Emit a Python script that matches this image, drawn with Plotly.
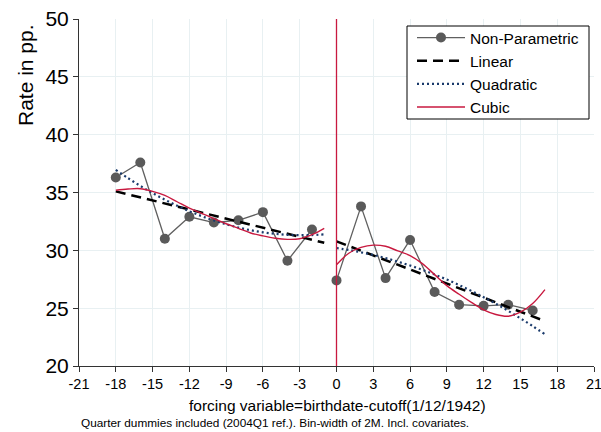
import plotly.graph_objects as go

# ---------------- data ----------------
X_LEFT = [-18, -16, -14, -12, -10, -8, -6, -4, -2]
NP_LEFT = [36.3, 37.6, 31.0, 32.9, 32.4, 32.6, 33.3, 29.1, 31.8]
X_RIGHT = [0, 2, 4, 6, 8, 10, 12, 14, 16]
NP_RIGHT = [27.4, 33.8, 27.6, 30.9, 26.4, 25.3, 25.2, 25.3, 24.8]

LIN_X_LEFT = [-18, -1]
LIN_LEFT = [35.1, 30.65]
LIN_X_RIGHT = [0, 17]
LIN_RIGHT = [30.78, 23.88]

FIT_X_LEFT = [-18, -17, -16, -15, -14, -13, -12, -11, -10, -9, -8, -7, -6, -5, -4, -3, -2, -1]
QUAD_LEFT = [36.95, 36.24, 35.57, 34.95, 34.38, 33.86, 33.38, 32.96, 32.58, 32.25,
             31.97, 31.74, 31.56, 31.43, 31.34, 31.31, 31.32, 31.38]
CUB_LEFT = [35.2, 35.3, 35.33, 35.1, 34.75, 34.2, 33.65, 33.2, 32.75, 32.3,
            31.9, 31.5, 31.25, 31.05, 30.95, 31.0, 31.35, 31.9]

FIT_X_RIGHT = [0, 1, 2, 3, 4, 5, 6, 7, 8, 9, 10, 11, 12, 13, 14, 15, 16, 17]
QUAD_RIGHT = [30.2, 30.03, 29.83, 29.6, 29.33, 29.02, 28.69, 28.32, 27.91, 27.47,
              27.0, 26.49, 25.95, 25.38, 24.77, 24.12, 23.45, 22.74]
CUB_RIGHT = [28.75, 29.75, 30.25, 30.45, 30.35, 29.95, 29.55, 28.85, 27.9, 26.95,
             26.2, 25.5, 24.85, 24.45, 24.3, 24.65, 25.4, 26.6]

CUTOFF = 0
X_TICKS = [-21, -18, -15, -12, -9, -6, -3, 0, 3, 6, 9, 12, 15, 18, 21]
Y_TICKS = [20, 25, 30, 35, 40, 45, 50]

# ---------------- styles ----------------
FONT = "Liberation Sans, Arial, sans-serif"
GRAY = "#606060"
CRIMSON = "#c8193f"
NAVY = "#1a3a6b"
GRID = "#e8f0f2"

fig = go.Figure()

# non-parametric
for i, (xs, ys) in enumerate([(X_LEFT, NP_LEFT), (X_RIGHT, NP_RIGHT)]):
    fig.add_trace(go.Scatter(
        x=xs, y=ys, mode="lines+markers", name="Non-Parametric",
        legendgroup="np", showlegend=(i == 0),
        line=dict(color=GRAY, width=1.3),
        marker=dict(color="#5a5a5a", size=10, line=dict(width=0)),
    ))

# linear
for i, (xs, ys) in enumerate([(LIN_X_LEFT, LIN_LEFT), (LIN_X_RIGHT, LIN_RIGHT)]):
    fig.add_trace(go.Scatter(
        x=xs, y=ys, mode="lines", name="Linear",
        legendgroup="lin", showlegend=(i == 0),
        line=dict(color="black", width=2.5, dash="10px,6px"),
    ))

# quadratic
for i, (xs, ys) in enumerate([(FIT_X_LEFT, QUAD_LEFT), (FIT_X_RIGHT, QUAD_RIGHT)]):
    fig.add_trace(go.Scatter(
        x=xs, y=ys, mode="lines", name="Quadratic",
        legendgroup="quad", showlegend=(i == 0),
        line=dict(color=NAVY, width=2.2, dash="2px,3px", shape="spline", smoothing=1.0),
    ))

# cubic
for i, (xs, ys) in enumerate([(FIT_X_LEFT, CUB_LEFT), (FIT_X_RIGHT, CUB_RIGHT)]):
    fig.add_trace(go.Scatter(
        x=xs, y=ys, mode="lines", name="Cubic",
        legendgroup="cub", showlegend=(i == 0),
        line=dict(color=CRIMSON, width=1.4, shape="spline", smoothing=1.0),
    ))

L, R, T, B = 79, 7, 19, 66
PW, PH = 601 - L - R, 432 - T - B


def px(xp):
    return (xp - L) / PW


def py(yp):
    return (432 - B - yp) / PH


fig.add_shape(type="line", xref="x", yref="paper", x0=CUTOFF, x1=CUTOFF, y0=0, y1=1,
              line=dict(color=CRIMSON, width=1.3), layer="above")
# legend frame
fig.add_shape(type="rect", xref="paper", yref="paper",
              x0=px(407), x1=px(589), y0=py(119), y1=py(26),
              line=dict(color="black", width=1), fillcolor="white", layer="above")

fig.update_layout(
    width=601, height=432,
    margin=dict(l=L, r=R, t=T, b=B, pad=0, autoexpand=False),
    paper_bgcolor="white", plot_bgcolor="white",
    font=dict(family=FONT, color="black"),
    showlegend=True,
    legend=dict(
        x=px(412), y=py(21), xanchor="left", yanchor="top",
        bgcolor="rgba(0,0,0,0)", borderwidth=0,
        font=dict(size=15.5, family=FONT, color="black"),
        traceorder="normal", itemwidth=48,
        tracegroupgap=0,
    ),
    xaxis=dict(
        range=[-21, 21], tickmode="array", tickvals=X_TICKS,
        ticktext=[str(v) for v in X_TICKS],
        showgrid=True, gridcolor=GRID, gridwidth=1,
        zeroline=False, showline=True, linecolor="#333333", linewidth=1,
        ticks="outside", ticklen=5, tickcolor="#333333",
        tickfont=dict(size=14.5, family=FONT, color="black"),
        ticklabeloverflow="allow", automargin=False,
    ),
    yaxis=dict(
        range=[20, 50], tickmode="array", tickvals=Y_TICKS,
        ticktext=[str(v) for v in Y_TICKS],
        showgrid=True, gridcolor=GRID, gridwidth=1,
        zeroline=False, showline=True, linecolor="#333333", linewidth=1,
        ticks="outside", ticklen=5, tickcolor="#333333",
        tickfont=dict(size=21, family=FONT, color="black"),
        automargin=False,
    ),
    annotations=[
        dict(text="Rate in pp.", xref="paper", yref="paper", x=px(25), y=py(75),
             xanchor="center", yanchor="middle", textangle=-90, showarrow=False,
             font=dict(size=21, family=FONT, color="black")),
        dict(text="forcing variable=birthdate-cutoff(1/12/1942)", xref="paper", yref="paper",
             x=px(337), y=py(405.5), xanchor="center", yanchor="middle", showarrow=False,
             font=dict(size=15.5, family=FONT, color="black")),
        dict(text="Quarter dummies included (2004Q1 ref.). Bin-width of 2M. Incl. covariates.",
             xref="paper", yref="paper", x=px(79), y=py(423), xanchor="left", yanchor="middle",
             showarrow=False, font=dict(size=11.8, family=FONT, color="black")),
    ],
)

fig.write_html("out.html")
